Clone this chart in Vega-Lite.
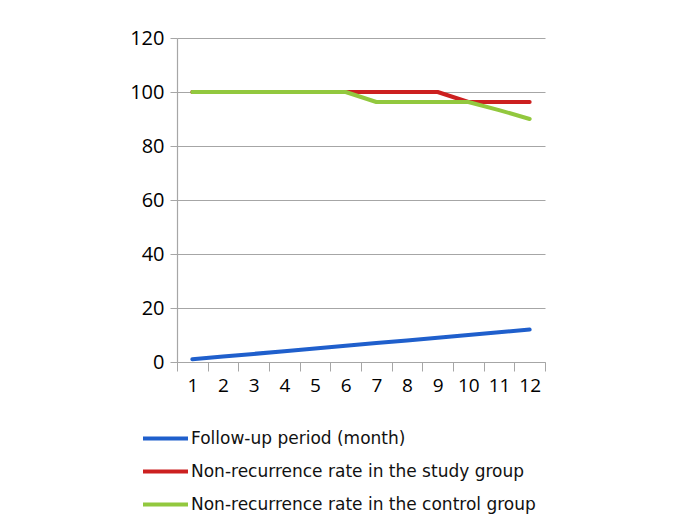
{
  "$schema": "https://vega.github.io/schema/vega-lite/v6.json",
  "width": 368,
  "height": 324,
  "autosize": "none",
  "padding": {"left": 177, "top": 38, "right": 135, "bottom": 160},
  "background": "white",
  "config": {"view": {"stroke": null}},
  "data": {
    "values": [
      {"month": 1, "series": "Follow-up period (month)", "value": 1},
      {"month": 2, "series": "Follow-up period (month)", "value": 2},
      {"month": 3, "series": "Follow-up period (month)", "value": 3},
      {"month": 4, "series": "Follow-up period (month)", "value": 4},
      {"month": 5, "series": "Follow-up period (month)", "value": 5},
      {"month": 6, "series": "Follow-up period (month)", "value": 6},
      {"month": 7, "series": "Follow-up period (month)", "value": 7},
      {"month": 8, "series": "Follow-up period (month)", "value": 8},
      {"month": 9, "series": "Follow-up period (month)", "value": 9},
      {"month": 10, "series": "Follow-up period (month)", "value": 10},
      {"month": 11, "series": "Follow-up period (month)", "value": 11},
      {"month": 12, "series": "Follow-up period (month)", "value": 12},
      {"month": 1, "series": "Non-recurrence rate in the study group", "value": 100},
      {"month": 2, "series": "Non-recurrence rate in the study group", "value": 100},
      {"month": 3, "series": "Non-recurrence rate in the study group", "value": 100},
      {"month": 4, "series": "Non-recurrence rate in the study group", "value": 100},
      {"month": 5, "series": "Non-recurrence rate in the study group", "value": 100},
      {"month": 6, "series": "Non-recurrence rate in the study group", "value": 100},
      {"month": 7, "series": "Non-recurrence rate in the study group", "value": 100},
      {"month": 8, "series": "Non-recurrence rate in the study group", "value": 100},
      {"month": 9, "series": "Non-recurrence rate in the study group", "value": 100},
      {"month": 10, "series": "Non-recurrence rate in the study group", "value": 96.3},
      {"month": 11, "series": "Non-recurrence rate in the study group", "value": 96.3},
      {"month": 12, "series": "Non-recurrence rate in the study group", "value": 96.3},
      {"month": 1, "series": "Non-recurrence rate in the control group", "value": 100},
      {"month": 2, "series": "Non-recurrence rate in the control group", "value": 100},
      {"month": 3, "series": "Non-recurrence rate in the control group", "value": 100},
      {"month": 4, "series": "Non-recurrence rate in the control group", "value": 100},
      {"month": 5, "series": "Non-recurrence rate in the control group", "value": 100},
      {"month": 6, "series": "Non-recurrence rate in the control group", "value": 100},
      {"month": 7, "series": "Non-recurrence rate in the control group", "value": 96.3},
      {"month": 8, "series": "Non-recurrence rate in the control group", "value": 96.3},
      {"month": 9, "series": "Non-recurrence rate in the control group", "value": 96.3},
      {"month": 10, "series": "Non-recurrence rate in the control group", "value": 96.3},
      {"month": 11, "series": "Non-recurrence rate in the control group", "value": 93.3},
      {"month": 12, "series": "Non-recurrence rate in the control group", "value": 90}
    ]
  },
  "mark": {"type": "line", "strokeWidth": 4, "strokeCap": "round", "strokeJoin": "round"},
  "encoding": {
    "x": {
      "field": "month",
      "type": "quantitative",
      "scale": {"domain": [0.5, 12.5], "nice": false, "zero": false},
      "axis": {
        "title": null,
        "grid": false,
        "values": [0.5, 1, 1.5, 2, 2.5, 3, 3.5, 4, 4.5, 5, 5.5, 6, 6.5, 7, 7.5, 8, 8.5, 9, 9.5, 10, 10.5, 11, 11.5, 12, 12.5],
        "labelExpr": "datum.value % 1 === 0 ? format(datum.value, 'd') : ''",
        "labelOverlap": false,
        "labelFlush": false,
        "labelFont": "Open Sans",
        "labelFontSize": 19,
        "labelColor": "#000000",
        "labelPadding": 5,
        "tickSize": 9,
        "tickColor": {"condition": {"test": "datum.value % 1 === 0", "value": "transparent"}, "value": "#a6a6a6"},
        "domainColor": "#a6a6a6",
        "domainWidth": 1.2
      }
    },
    "y": {
      "field": "value",
      "type": "quantitative",
      "scale": {"domain": [0, 120], "nice": false},
      "axis": {
        "title": null,
        "values": [0, 20, 40, 60, 80, 100, 120],
        "grid": true,
        "gridColor": "#a6a6a6",
        "gridWidth": 1,
        "domainColor": "#a6a6a6",
        "domainWidth": 1.2,
        "tickColor": "#a6a6a6",
        "tickSize": 7,
        "labelFont": "Open Sans",
        "labelFontSize": 20,
        "labelColor": "#000000",
        "labelPadding": 6
      }
    },
    "color": {
      "field": "series",
      "type": "nominal",
      "sort": ["Follow-up period (month)", "Non-recurrence rate in the study group", "Non-recurrence rate in the control group"],
      "scale": {
        "domain": ["Follow-up period (month)", "Non-recurrence rate in the study group", "Non-recurrence rate in the control group"],
        "range": ["#1f5fcc", "#cc2020", "#92c83e"]
      },
      "legend": {
        "title": null,
        "orient": "none",
        "legendX": -36,
        "legendY": 376,
        "direction": "vertical",
        "symbolType": "stroke",
        "symbolSize": 2025,
        "symbolStrokeWidth": 4,
        "labelFont": "DejaVu Sans",
        "labelFontSize": 17,
        "labelColor": "#111111",
        "labelOffset": 1,
        "rowPadding": -14,
        "padding": 0,
        "labelLimit": 600
      }
    },
    "order": {"field": "month"}
  }
}
